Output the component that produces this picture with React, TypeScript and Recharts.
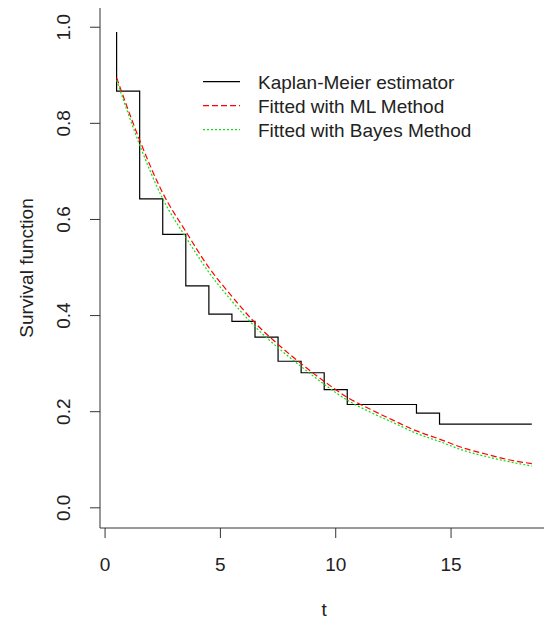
import { Label, Legend, Line, LineChart, XAxis, YAxis } from "recharts";

// Kaplan-Meier step estimate (time of each step, survival after it)
const kmTime = [0.5, 0.5, 1.5, 2.5, 3.5, 4.5, 5.5, 6.5, 7.5, 8.5, 9.5, 10.5, 13.5, 14.5, 18.5];
const kmSurv = [0.99, 0.867, 0.643, 0.569, 0.462, 0.403, 0.388, 0.355, 0.305, 0.281, 0.246, 0.215, 0.197, 0.174, 0.174];

// fitted survival curves at each half unit
const fitTime = [0.5, 1.5, 2.5, 3.5, 4.5, 5.5, 6.5, 7.5, 8.5, 9.5, 10.5, 11.5, 12.5, 13.5, 14.5, 15.5, 16.5, 17.5, 18.5];
const mlSurv = [0.895, 0.765, 0.655, 0.575, 0.5, 0.44, 0.385, 0.34, 0.3, 0.263, 0.23, 0.205, 0.182, 0.16, 0.143, 0.125, 0.112, 0.1, 0.092];
const bayesSurv = [0.89, 0.755, 0.643, 0.563, 0.49, 0.43, 0.377, 0.333, 0.294, 0.257, 0.224, 0.199, 0.177, 0.155, 0.138, 0.12, 0.107, 0.096, 0.087];

const xTicks = [0, 5, 10, 15];
const yTicks = [0, 0.2, 0.4, 0.6, 0.8, 1.0];
const seriesNames = ["Kaplan-Meier estimator", "Fitted with ML Method", "Fitted with Bayes Method"];

const FONT = "'Liberation Sans', Arial, sans-serif";
const FS = 19;
const AXIS = "#333";

const kmData = kmTime.map((t, i) => ({ t, s: kmSurv[i] }));
const mlData = fitTime.map((t, i) => ({ t, s: mlSurv[i] }));
const bayesData = fitTime.map((t, i) => ({ t, s: bayesSurv[i] }));

function XTick({ x, y, payload }: any) {
  return (
    <text x={x} y={y} dy="0.71em" textAnchor="middle" fill="#222" fontSize={FS} fontFamily={FONT}>
      {payload.value}
    </text>
  );
}

function YTick({ x, y, payload }: any) {
  return (
    <text
      x={x}
      y={y}
      transform={`rotate(-90 ${x} ${y})`}
      textAnchor="middle"
      fill="#222"
      fontSize={FS}
      fontFamily={FONT}
    >
      {Number(payload.value).toFixed(1)}
    </text>
  );
}

// legend drawn in the same order the series were added
function KeyBox({ payload }: any) {
  const rows = (payload || [])
    .map((p: any) => ({
      name: p.value,
      color: p.color,
      dash: p.payload?.strokeDasharray,
    }))
    .sort((a: any, b: any) => seriesNames.indexOf(a.name) - seriesNames.indexOf(b.name));
  return (
    <svg width={300} height={84} style={{ display: "block" }}>
      {rows.map((r: any, i: number) => {
        const cy = 21.7 + i * 24;
        return (
          <g key={r.name}>
            <line x1={8} x2={45} y1={cy} y2={cy} stroke={r.color} strokeWidth={1.2} strokeDasharray={r.dash} />
            <text x={63} y={cy + 6.8} fontSize={FS} fontFamily={FONT} fill="#222">
              {r.name}
            </text>
          </g>
        );
      })}
    </svg>
  );
}

export default function App() {
  return (
    <div
      style={{
        position: "absolute",
        left: 0,
        top: 0,
        width: 544,
        height: 622,
        overflow: "hidden",
        background: "#fff",
      }}
    >
      <LineChart width={560} height={622} margin={{ top: 8, right: 11.6, bottom: 0, left: 0 }}>
        <XAxis
          dataKey="t"
          type="number"
          domain={[-0.22, 19.22]}
          ticks={xTicks}
          allowDataOverflow
          height={94}
          stroke={AXIS}
          tickSize={10}
          tickMargin={20}
          tick={<XTick />}
        >
          <Label
            content={({ viewBox }: any) => (
              <text
                x={viewBox.x + viewBox.width / 2}
                y={616}
                textAnchor="middle"
                fontSize={FS}
                fontFamily={FONT}
                fill="#222"
              >
                t
              </text>
            )}
          />
        </XAxis>
        <YAxis
          type="number"
          domain={[-0.042, 1.04]}
          ticks={yTicks}
          allowDataOverflow
          width={100}
          stroke={AXIS}
          tickSize={10}
          tickMargin={20}
          tick={<YTick />}
        >
          <Label
            content={({ viewBox }: any) => {
              const cx = 33;
              const cy = viewBox.y + viewBox.height / 2;
              return (
                <text
                  x={cx}
                  y={cy}
                  transform={`rotate(-90 ${cx} ${cy})`}
                  textAnchor="middle"
                  fontSize={FS}
                  fontFamily={FONT}
                  fill="#222"
                >
                  Survival function
                </text>
              );
            }}
          />
        </YAxis>
        <Legend
          content={KeyBox}
          layout="horizontal"
          verticalAlign="middle"
          align="center"
          wrapperStyle={{ left: 195, top: 60, width: 300 }}
        />
        <Line
          data={kmData}
          dataKey="s"
          name={seriesNames[0]}
          type="stepAfter"
          stroke="#000"
          strokeWidth={1.2}
          dot={false}
          isAnimationActive={false}
        />
        <Line
          data={mlData}
          dataKey="s"
          name={seriesNames[1]}
          type="monotone"
          stroke="#ff0000"
          strokeWidth={1.2}
          strokeDasharray="6 3"
          dot={false}
          isAnimationActive={false}
        />
        <Line
          data={bayesData}
          dataKey="s"
          name={seriesNames[2]}
          type="monotone"
          stroke="#11dd11"
          strokeWidth={1.2}
          strokeDasharray="2 2"
          dot={false}
          isAnimationActive={false}
        />
      </LineChart>
    </div>
  );
}
